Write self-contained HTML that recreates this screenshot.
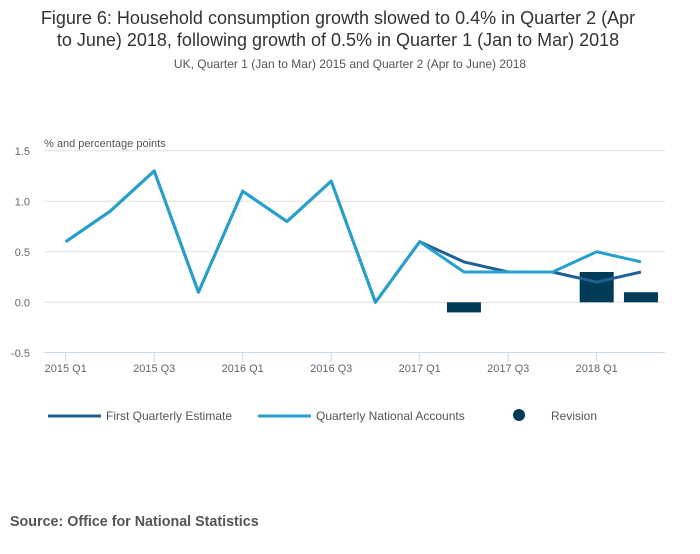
<!DOCTYPE html>
<html><head><meta charset="utf-8"><style>
body{margin:0;background:#fff;font-family:"Liberation Sans",sans-serif;}
svg text{font-family:"Liberation Sans",sans-serif;}
</style></head><body>
<svg width="700" height="549" id="c">
<text x="338" y="24" text-anchor="middle" font-size="18" fill="#333">Figure 6: Household consumption growth slowed to 0.4% in Quarter 2 (Apr</text>
<text x="338" y="46" text-anchor="middle" font-size="18" fill="#333">to June) 2018, following growth of 0.5% in Quarter 1 (Jan to Mar) 2018</text>
<text x="350" y="68" text-anchor="middle" font-size="12" fill="#555">UK, Quarter 1 (Jan to Mar) 2015 and Quarter 2 (Apr to June) 2018</text>
<text x="44" y="147" font-size="11" fill="#555">% and percentage points</text>
<g id="grid"></g><g id="bars"></g><g id="lines"></g><g id="xaxis"></g>
<g>
<line x1="48" y1="416" x2="101" y2="416" stroke="#206095" stroke-width="3"/>
<text x="106" y="420" font-size="12" fill="#555">First Quarterly Estimate</text>
<line x1="258" y1="416" x2="311" y2="416" stroke="#27a0cc" stroke-width="3"/>
<text x="316" y="420" font-size="12" fill="#555">Quarterly National Accounts</text>
<circle cx="519" cy="415" r="6" fill="#003c57"/>
<text x="551" y="420" font-size="12" fill="#555">Revision</text>
</g>
<text x="10" y="526" font-size="14.3" font-weight="bold" fill="#555">Source: Office for National Statistics</text>
</svg>
<script>
const categories=["2015 Q1","2015 Q2","2015 Q3","2015 Q4","2016 Q1","2016 Q2","2016 Q3","2016 Q4","2017 Q1","2017 Q2","2017 Q3","2017 Q4","2018 Q1","2018 Q2"];
const firstEstimate=[0.6,0.9,1.3,0.1,1.1,0.8,1.2,0.0,0.6,0.4,0.3,0.3,0.2,0.3];
const qna=[0.6,0.9,1.3,0.1,1.1,0.8,1.2,0.0,0.6,0.3,0.3,0.3,0.5,0.4];
const revision=[0,0,0,0,0,0,0,0,0,-0.1,0,0,0.3,0.1];
const yTicks=[1.5,1.0,0.5,0.0,-0.5];
const NS="http://www.w3.org/2000/svg";
function x(i){return 65.7+i*44.25;}
function y(v){return 302.3-v*101;}
function mk(p,tag,a){const e=document.createElementNS(NS,tag);for(const k in a)e.setAttribute(k,a[k]);document.getElementById(p).appendChild(e);return e;}
yTicks.forEach(t=>{
 if(t>-0.5){const g=mk('grid','line',{x1:44,x2:665,y1:y(t),y2:y(t),stroke:'#e0e0e0'});
 
 }
 const l=mk('grid','text',{x:30,y:y(t)+4,'text-anchor':'end','font-size':11,fill:'#666'});l.textContent=t.toFixed(1);
 
 
});
const ax=mk('xaxis','line',{x1:44,x2:665,y1:352.5,y2:352.5,stroke:'#ccd6eb'});


categories.forEach((c,i)=>{
 if(i%2==0){const t=mk('xaxis','line',{x1:x(i),x2:x(i),y1:352,y2:362,stroke:'#ccd6eb'});
 
 
 const l=mk('xaxis','text',{x:x(i),y:372,'text-anchor':'middle','font-size':11,fill:'#666'});l.textContent=c;
 
 }
});
revision.forEach((v,i)=>{
 if(v===0)return;
 const b=mk('bars','rect',{x:x(i)-17,width:34,y:Math.min(y(v),y(0)),height:Math.abs(y(v)-y(0)),fill:'#003c57'});
 
 
});
function line(arr,col,name){
 const p=mk('lines','polyline',{points:arr.map((v,i)=>x(i)+','+y(v)).join(' '),fill:'none',stroke:col,'stroke-width':3,'stroke-linejoin':'round'});
 
 
}
line(firstEstimate,'#206095','first-estimate-line');
line(qna,'#27a0cc','qna-line');
</script>
</body></html>
